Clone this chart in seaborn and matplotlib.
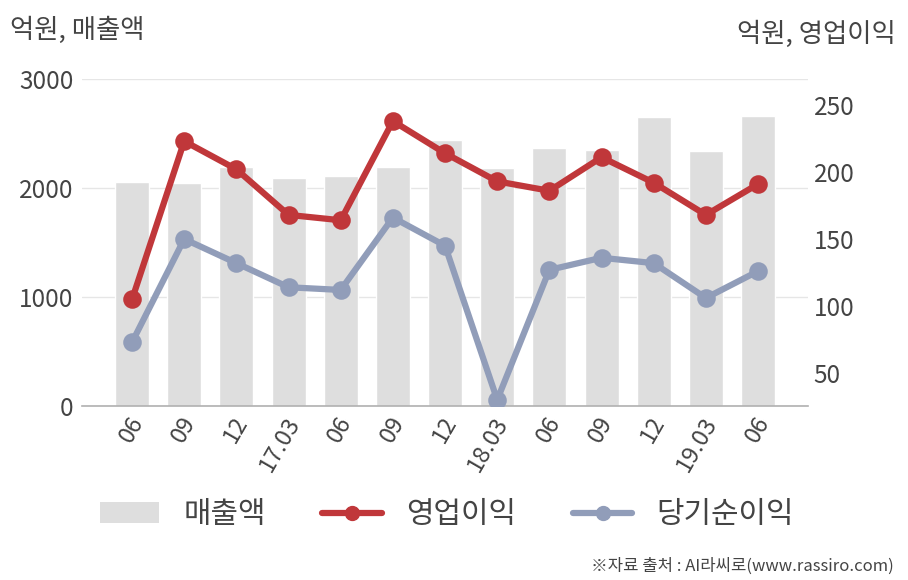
import matplotlib
matplotlib.use("Agg")
import matplotlib.pyplot as plt
import matplotlib.transforms as mtransforms
import seaborn as sns
import pandas as pd
from matplotlib.patches import Patch
from matplotlib.lines import Line2D

periods = ["16.06", "16.09", "16.12", "17.03", "17.06", "17.09", "17.12",
           "18.03", "18.06", "18.09", "18.12", "19.03", "19.06"]
tick_labels = ["06", "09", "12", "17.03", "06", "09", "12",
               "18.03", "06", "09", "12", "19.03", "06"]
revenue = [2058, 2046, 2196, 2092, 2110, 2193, 2440, 2183, 2367, 2349, 2651, 2339, 2663]
op_profit = [105, 223, 202, 168, 164, 238, 214, 193, 186, 211, 192, 168, 191]
net_profit = [73, 150, 132, 114, 112, 166, 145, 30, 127, 136, 132, 106, 126]

bar_color = "#dedede"
red = "#c0373a"
blue = "#919db9"
txt = "#444444"

sns.set_theme(style="white")
plt.rcParams["font.family"] = ["Noto Sans CJK KR", "DejaVu Sans"]

df = pd.DataFrame({"period": periods, "revenue": revenue,
                   "op": op_profit, "net": net_profit})

fig = plt.figure(figsize=(9.08, 5.8), dpi=100)
ax = fig.add_axes([0.0903, 0.3, 0.7997, 0.5638])
sns.barplot(data=df, x="period", y="revenue", color=bar_color, width=0.65,
            saturation=1, ax=ax, zorder=2)
ax.set_ylim(0, 3000)
ax.set_yticks([0, 1000, 2000, 3000])
ax.grid(axis="y", color="#e6e6e6", linewidth=1, zorder=0)
ax.set_axisbelow(True)
for s in ["top", "left", "right"]:
    ax.spines[s].set_visible(False)
ax.spines["bottom"].set_color("#b0b0b0")
ax.spines["bottom"].set_linewidth(1.2)
ax.set_xlabel("")
ax.set_ylabel("")
ax.tick_params(axis="y", labelsize=17.5, colors=txt, length=0, pad=6)
ax.tick_params(axis="x", labelsize=17, colors=txt, length=0, pad=9)
ax.set_xticks(range(len(periods)))
ax.set_xticklabels(tick_labels, rotation=60, ha="right", rotation_mode="anchor", va="center")
offset = mtransforms.ScaledTranslation(6 / 100, 0, fig.dpi_scale_trans)
for lab in ax.get_xticklabels():
    lab.set_transform(lab.get_transform() + offset)

ax2 = ax.twinx()
sns.pointplot(data=df, x="period", y="op", color=red, ax=ax2,
              markers="o", linestyles="-", markersize=10, linewidth=4.5)
sns.pointplot(data=df, x="period", y="net", color=blue, ax=ax2,
              markers="o", linestyles="-", markersize=10, linewidth=4.5)
ax2.set_ylim(25.4, 269.4)
ax2.set_yticks([50, 100, 150, 200, 250])
for s in ["top", "left", "right", "bottom"]:
    ax2.spines[s].set_visible(False)
ax2.set_ylabel("")
ax2.set_xlabel("")
ax2.tick_params(axis="y", labelsize=17.5, colors=txt, length=0, pad=4)
ax2.grid(False)
ax.set_xlim(-0.96, 12.96)
ax2.set_xlim(-0.96, 12.96)

fig.text(0.011, 0.948, "억원, 매출액", fontsize=19, color=txt, ha="left", va="center")
fig.text(0.986, 0.941, "억원, 영업이익", fontsize=19, color=txt, ha="right", va="center")

handles = [Patch(facecolor=bar_color, edgecolor="none"),
           Line2D([0], [0], color=red, lw=4.5, marker="o", markersize=10),
           Line2D([0], [0], color=blue, lw=4.5, marker="o", markersize=10)]
fig.legend(handles, ["매출액", "영업이익", "당기순이익"], loc="center",
           bbox_to_anchor=(0.492, 0.113), ncol=3, frameon=False,
           fontsize=21.5, labelcolor=txt, handlelength=2.0, handleheight=0.7,
           handletextpad=0.8, columnspacing=1.9)

fig.text(0.984, 0.024, "※자료 출처 : AI라씨로(www.rassiro.com)", fontsize=12,
         color=txt, ha="right", va="center")

fig.savefig("out.png", dpi=100)
